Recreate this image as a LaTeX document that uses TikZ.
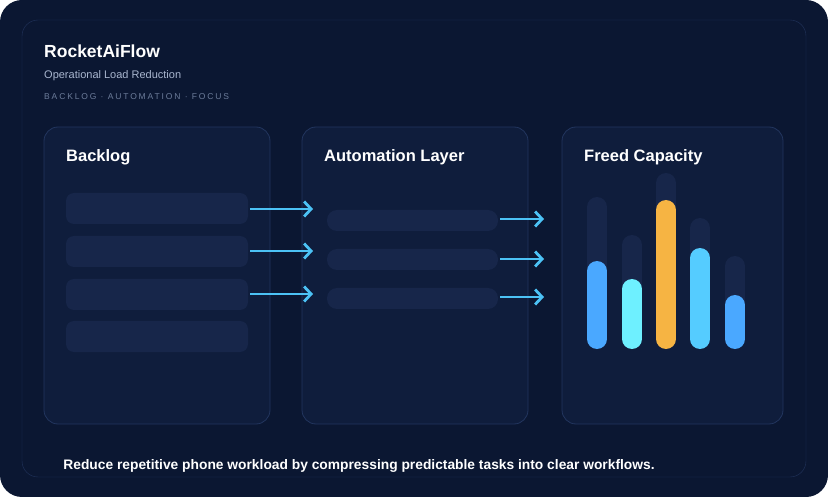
\documentclass[tikz,border=0pt]{standalone}
\usepackage{fontspec}
\setmainfont{Liberation Sans}
\usetikzlibrary{arrows.meta}
\definecolor{bgnavy}{HTML}{0B1732}
\definecolor{panelnavy}{HTML}{0F1D3C}
\definecolor{rownavy}{HTML}{17264A}
\definecolor{edgeblue}{HTML}{22355E}
\definecolor{arrowblue}{HTML}{4CC2F5}
\definecolor{barblue}{HTML}{4AA8FF}
\definecolor{barcyan}{HTML}{6EF0FF}
\definecolor{barsky}{HTML}{55CCFF}
\definecolor{barorange}{HTML}{F6B443}
\definecolor{subgray}{HTML}{A9B6CF}
\definecolor{tagsgray}{HTML}{6C7C9A}
\tikzset{
  panel/.style={draw=edgeblue, fill=panelnavy, rounded corners=14pt, line width=0.8pt},
  taskrow/.style={fill=rownavy, rounded corners=8pt},
  flow/.style={arrowblue, line width=2.8pt, -{Straight Barb[length=7pt,width=15pt]}},
  track/.style={rownavy, line width=20pt, line cap=round},
  bar/.style={line width=20pt, line cap=round},
  head/.style={white, font=\bfseries\fontsize{16.5}{18}\selectfont, anchor=west, inner sep=0pt}
}
\begin{document}
\begin{tikzpicture}[x=1pt,y=-1pt]
  \useasboundingbox (0,0) rectangle (828,497);
  \fill[bgnavy, rounded corners=22pt] (0,0) rectangle (828,497);
  \draw[edgeblue, rounded corners=16pt] (22,20) rectangle (806,477);

  % header
  \node[white, font=\bfseries\fontsize{17.5}{20}\selectfont, anchor=west, inner sep=0pt] (brand) at (44,51) {RocketAiFlow};
  \node[subgray, font=\fontsize{11}{13}\selectfont, anchor=west, inner sep=0pt] (subtitle) at (44,76) {Operational Load Reduction};
  \node[tagsgray, font=\fontsize{8.5}{10}\selectfont, anchor=west, inner sep=0pt] (tags) at (44,97)
    {\addfontfeatures{LetterSpace=22}BACKLOG · AUTOMATION · FOCUS};

  % panels
  \draw[panel] (44,127) rectangle (270,424);
  \draw[panel] (302,127) rectangle (528,424);
  \draw[panel] (562,127) rectangle (783,424);
  \node[head] (backlog) at (66,157) {Backlog};
  \node[head] (automation) at (324,157) {Automation Layer};
  \node[head] (freed) at (584,157) {Freed Capacity};

  % backlog rows
  \foreach \y in {193,236,279,321}
    \fill[taskrow] (66,\y) rectangle (248,\y+31);
  % automation rows
  \foreach \y in {210,249,288}
    \fill[taskrow, rounded corners=10pt] (327,\y) rectangle (498,\y+21);

  % arrows
  \foreach \y [count=\i] in {209,251,294} {
    \coordinate (bl\i) at (250,\y);
    \coordinate (al\i) at (313,\y);
    \draw[flow] (bl\i) -- (al\i);
  }
  \foreach \y [count=\i] in {219,259,297} {
    \coordinate (ar\i) at (500,\y);
    \coordinate (fc\i) at (544,\y);
    \draw[flow] (ar\i) -- (fc\i);
  }

  % bars
  \foreach \x/\t/\h/\c in {597/207/271/barblue, 632/245/289/barcyan, 666/183/210/barorange, 700/228/258/barsky, 735/266/305/barblue} {
    \draw[track] (\x,\t) -- (\x,339);
    \draw[bar, \c] (\x,\h) -- (\x,339);
  }

  % footer
  \node[white, font=\bfseries\fontsize{13.8}{16}\selectfont] (footer) at (359,466)
    {Reduce repetitive phone workload by compressing predictable tasks into clear workflows.};
\end{tikzpicture}
\end{document}
